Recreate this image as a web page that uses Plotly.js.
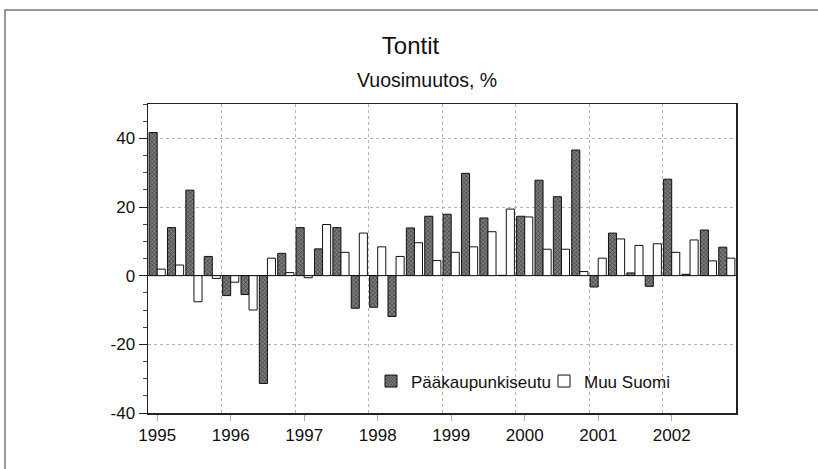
<!DOCTYPE html>
<html><head><meta charset="utf-8">
<script src="https://cdn.plot.ly/plotly-3.0.1.min.js"></script>
<style>html,body{margin:0;padding:0;background:#fff}#chart{width:818px;height:469px}</style>
</head><body><div id="chart"></div>
<script>
// ---- data ----
const years = [1995, 1996, 1997, 1998, 1999, 2000, 2001, 2002];
const quarters = [1, 2, 3, 4];
const yearLabels = ['1995', '1996', '1997', '1998', '1999', '2000', '2001', '2002'];
const seriesNames = ['Pääkaupunkiseutu', 'Muu Suomi'];
const paakaupunkiseutu = [
  41.7, 14.0, 24.9, 5.6,
  -5.8, -5.5, -31.4, 6.5,
  14.0, 7.8, 14.0, -9.5,
  -9.2, -11.9, 13.9, 17.3,
  17.9, 29.8, 16.8, 0.1,
  17.3, 27.8, 23.0, 36.6,
  -3.3, 12.4, 0.8, -3.1,
  28.1, 0.4, 13.3, 8.3
];
const muuSuomi = [
  1.9, 3.1, -7.6, -0.8,
  -1.9, -10.0, 5.1, 0.9,
  -0.6, 14.9, 6.8, 12.4,
  8.4, 5.6, 9.6, 4.4,
  6.8, 8.4, 12.8, 19.4,
  17.1, 7.7, 7.7, 1.2,
  5.1, 10.7, 8.8, 9.3,
  6.8, 10.4, 4.3, 5.1
];
const yTicks = [-40, -20, 0, 20, 40];
const yTickLabels = ['-40', '-20', '0', '20', '40'];

// quarter positions on a numeric time axis
const xq = [];
years.forEach(y => quarters.forEach(q => xq.push(y + (q - 1) / 4)));
const yearBounds = years.slice(1).map(y => y - 0.125);

const M = {l: 148, r: 82, t: 104, b: 56};
const W = 818, H = 469;
const pw = W - M.l - M.r, ph = H - M.t - M.b;
const px2x = p => (p - M.l) / pw;
const py2y = p => (H - M.b - p) / ph;

const base = 'Liberation Sans, Arial, sans-serif';

const traces = [
  {
    type: 'bar', name: seriesNames[0], x: xq, y: paakaupunkiseutu,
    marker: {color: '#5e5e5e', line: {color: '#111', width: 1},
      pattern: {shape: 'x', fgcolor: '#262626', bgcolor: '#7c7c7c', size: 3, solidity: 0.3}},
    hoverinfo: 'x+y'
  },
  {
    type: 'bar', name: seriesNames[1], x: xq, y: muuSuomi,
    marker: {color: '#ffffff', line: {color: '#111', width: 1}},
    hoverinfo: 'x+y'
  }
];

const layout = {
  width: W, height: H,
  margin: {l: M.l, r: M.r, t: M.t, b: M.b, pad: 0},
  paper_bgcolor: '#fff', plot_bgcolor: '#fff',
  barmode: 'group', bargap: 0.12, bargroupgap: 0,
  font: {family: base, size: 17, color: '#111'},
  title: {
    text: 'Tontit', xref: 'container', x: 410.5 / W, xanchor: 'center',
    yref: 'container', y: 1 - 46 / H, yanchor: 'middle',
    font: {family: base, size: 24, color: '#111'}
  },
  annotations: [{
    text: 'Vuosimuutos, %', showarrow: false,
    xref: 'paper', x: px2x(426.7), xanchor: 'center',
    yref: 'paper', y: py2y(80), yanchor: 'middle',
    font: {family: base, size: 19.5, color: '#111'}
  }],
  xaxis: {
    range: [years[0] - 0.125, years[years.length - 1] + 0.875],
    tickmode: 'array', tickvals: years, ticktext: yearLabels,
    ticks: 'outside', ticklen: 6, tickcolor: '#aaa', tickwidth: 1,
    showgrid: false, zeroline: false,
    showline: true, linecolor: '#222', linewidth: 1.5, mirror: true,
    tickfont: {family: base, size: 17, color: '#111'},
    minor: {tickmode: 'array', tickvals: yearBounds, ticks: '', showgrid: true,
      gridcolor: '#b4b4b4', gridwidth: 1, griddash: 'dot'},
    fixedrange: true
  },
  yaxis: {
    range: [-40, 50], tickmode: 'array', tickvals: yTicks, ticktext: yTickLabels,
    ticks: 'outside', ticklen: 8, tickcolor: '#222', tickwidth: 1,
    showgrid: true, gridcolor: '#b4b4b4', gridwidth: 1, griddash: 'dot',
    zeroline: true, zerolinecolor: '#111', zerolinewidth: 1.5,
    showline: true, linecolor: '#222', linewidth: 1.5, mirror: true,
    tickfont: {family: base, size: 17, color: '#111'},
    minor: {dtick: 5, tick0: 0, ticks: 'outside', ticklen: 4, tickcolor: '#444', showgrid: false},
    fixedrange: true
  },
  legend: {
    orientation: 'h', x: px2x(371), xanchor: 'left', y: py2y(381.5), yanchor: 'middle',
    bgcolor: 'rgba(0,0,0,0)', font: {family: base, size: 17, color: '#111'},
    traceorder: 'normal', entrywidth: 128, entrywidthmode: 'pixels'
  },
  showlegend: true,
  shapes: [
    {type: 'path', xref: 'paper', yref: 'paper',
      path: 'M ' + px2x(5) + ' ' + py2y(H) + ' L ' + px2x(5) + ' ' + py2y(10) + ' L ' + px2x(W) + ' ' + py2y(10),
      line: {color: '#777', width: 1.5}, layer: 'below'}
  ]
};

Plotly.newPlot('chart', traces, layout, {displayModeBar: false, staticPlot: true});
</script>
</body></html>
